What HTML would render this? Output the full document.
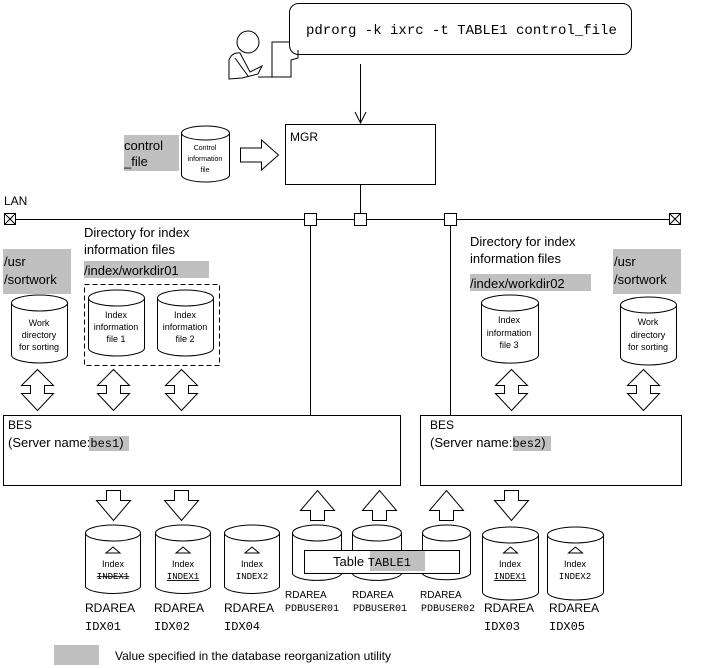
<!DOCTYPE html>
<html><head><meta charset="utf-8"><style>
html,body{margin:0;padding:0;background:#fff;}
svg{display:block;}
text{font-family:"Liberation Sans",sans-serif;fill:#000;}
.m{font-family:"Liberation Mono",monospace;}
</style></head><body>
<svg width="718" height="668" viewBox="0 0 718 668" xmlns="http://www.w3.org/2000/svg">
<defs>
<g id="dbl"><polygon points="0,0 16,16 7,16 7,24 16,24 0,41 -16,24 -7,24 -7,16 -16,16" fill="#fff" stroke="#000"/></g>
<g id="dn"><polygon points="-7,0 7,0 7,10 17,10 0,30 -17,10 -7,10" fill="#fff" stroke="#000"/></g>
<g id="up"><polygon points="-7,30 7,30 7,20 17,20 0,0 -17,20 -7,20" fill="#fff" stroke="#000"/></g>
</defs>
<g fill="none" stroke="#000" stroke-width="1">
<rect x="289.5" y="3.5" width="342" height="51" rx="9" fill="#fff"/>
<circle cx="248" cy="42" r="11"/>
<path d="M229,79 V60 Q232,52 240,53 L250,72 L262,66 L258,74 L242,78 Z"/>
<path d="M235,58 L248,76"/>
<path d="M258,77 L291,77 L291,60 L298,58 L298,50"/>
<path d="M272,77 V42 H290"/>
<line x1="360.5" y1="64" x2="360.5" y2="123"/>
<polyline points="355,112 360.5,123 366,112"/>
<rect x="285.5" y="124.5" width="150" height="60"/>
<path d="M181.5,133 V175 A24,7 0 0 0 229.5,175 V133" fill="#fff"/>
<ellipse cx="205.5" cy="133" rx="24" ry="7"/>
<polygon points="240.5,148 261.5,148 261.5,140 278.5,155 261.5,170 261.5,162 240.5,162" fill="#fff"/>
<line x1="15" y1="219.5" x2="669" y2="219.5"/>
<rect x="4.5" y="213.5" width="11" height="11" fill="#fff"/>
<path d="M4.5,213.5 L15.5,224.5 M15.5,213.5 L4.5,224.5"/>
<rect x="669.5" y="213.5" width="11" height="11" fill="#fff"/>
<path d="M669.5,213.5 L680.5,224.5 M680.5,213.5 L669.5,224.5"/>
<line x1="360.5" y1="184" x2="360.5" y2="213"/>
<line x1="310.5" y1="225" x2="310.5" y2="415"/>
<line x1="450.5" y1="225" x2="450.5" y2="415"/>
<rect x="304.5" y="213.5" width="12" height="12" fill="#fff"/>
<rect x="354.5" y="213.5" width="12" height="12" fill="#fff"/>
<rect x="444.5" y="213.5" width="12" height="12" fill="#fff"/>
<rect x="3.5" y="415.5" width="397" height="70"/>
<rect x="420.5" y="415.5" width="261" height="70"/>
<rect x="84.5" y="284.5" width="135" height="81" stroke-dasharray="5,3"/>
</g>
<g fill="#fff" stroke="#000">
<path d="M11.5,303 V355 A28,8 0 0 0 67.5,355 V303"/><ellipse cx="39.5" cy="303" rx="28" ry="8"/>
<path d="M88.5,298 V348 A28,8 0 0 0 144.5,348 V298"/><ellipse cx="116.5" cy="298" rx="28" ry="8"/>
<path d="M157.5,298 V348 A28,8 0 0 0 213.5,348 V298"/><ellipse cx="185.5" cy="298" rx="28" ry="8"/>
<path d="M481.5,303 V355 A28,8 0 0 0 538.5,355 V303"/><ellipse cx="510" cy="303" rx="28.5" ry="8"/>
<path d="M620.5,305 V357 A28,8 0 0 0 676.5,357 V305"/><ellipse cx="648.5" cy="305" rx="28" ry="8"/>
<path d="M85.5,533 V587 A28,8 0 0 0 140.5,587 V533"/><ellipse cx="113" cy="533" rx="27.5" ry="8"/>
<path d="M155.5,533 V587 A28,8 0 0 0 210.5,587 V533"/><ellipse cx="183" cy="533" rx="27.5" ry="8"/>
<path d="M224.5,533 V587 A28,8 0 0 0 279.5,587 V533"/><ellipse cx="252" cy="533" rx="27.5" ry="8"/>
<path d="M292.5,533 V574 A25,8 0 0 0 341.5,574 V533"/><ellipse cx="317" cy="533" rx="24.5" ry="8"/>
<path d="M352.5,533 V574 A25,8 0 0 0 401.5,574 V533"/><ellipse cx="377" cy="533" rx="24.5" ry="8"/>
<path d="M422.5,533 V574 A25,8 0 0 0 470.5,574 V533"/><ellipse cx="446.5" cy="533" rx="24" ry="8"/>
<path d="M482.5,535 V592 A28,8 0 0 0 538.5,592 V535"/><ellipse cx="510.5" cy="535" rx="28" ry="8"/>
<path d="M547.5,535 V592 A28,8 0 0 0 603.5,592 V535"/><ellipse cx="575.5" cy="535" rx="28" ry="8"/>
<rect x="304.5" y="550.5" width="155" height="23"/>
<polygon points="113,547 120,553 106,553"/><polygon points="183,547 190,553 176,553"/>
<polygon points="252,547 259,553 245,553"/><polygon points="510.5,547 517.5,553 503.5,553"/>
<polygon points="575.5,547 582.5,553 568.5,553"/>
</g>
<use href="#dbl" x="37.5" y="369.5"/><use href="#dbl" x="113.5" y="369.5"/><use href="#dbl" x="181.5" y="369.5"/>
<use href="#dbl" x="511.5" y="369.5"/><use href="#dbl" x="643.5" y="369.5"/>
<use href="#dn" x="113.5" y="490.5"/><use href="#dn" x="181.5" y="490.5"/><use href="#dn" x="511.5" y="490.5"/>
<use href="#up" x="317.5" y="490.5"/><use href="#up" x="379.5" y="490.5"/><use href="#up" x="446.5" y="490.5"/>
<g fill="#c0c0c0">
<rect x="124" y="135" width="55" height="36"/>
<rect x="3" y="249" width="68" height="45"/>
<rect x="84" y="261" width="125" height="17"/>
<rect x="470" y="274" width="121" height="17"/>
<rect x="613" y="249" width="68" height="45"/>
<rect x="89" y="436" width="40" height="15"/>
<rect x="513" y="436" width="38" height="15"/>
<rect x="370" y="551" width="55" height="20"/>
<rect x="54" y="645" width="45" height="20"/>
</g>
<text class="m" x="306" y="34" font-size="14">pdrorg -k ixrc -t TABLE1 control_file</text>
<text x="290" y="141" font-size="12">MGR</text>
<text x="124" y="150" font-size="13">control</text>
<text x="124" y="166" font-size="13">_file</text>
<g font-size="7" text-anchor="middle"><text x="205" y="150">Control</text><text x="205" y="161">information</text><text x="205" y="172">file</text></g>
<text x="4" y="205" font-size="12">LAN</text>
<text x="84" y="237" font-size="13">Directory for index</text>
<text x="84" y="254" font-size="13">information files</text>
<text x="84" y="275" font-size="13">/index/workdir01</text>
<text x="4" y="266" font-size="13">/usr</text><text x="4" y="284" font-size="13">/sortwork</text>
<text x="614" y="266" font-size="13">/usr</text><text x="614" y="284" font-size="13">/sortwork</text>
<text x="470" y="246" font-size="13">Directory for index</text>
<text x="470" y="263" font-size="13">information files</text>
<text x="470" y="288" font-size="13">/index/workdir02</text>
<g font-size="9" text-anchor="middle">
<text x="39" y="326">Work</text><text x="39" y="338">directory</text><text x="39" y="350">for sorting</text>
<text x="648" y="325">Work</text><text x="648" y="338">directory</text><text x="648" y="350">for sorting</text>
<text x="116" y="318">Index</text><text x="116" y="330">information</text><text x="116" y="342">file 1</text>
<text x="185" y="318">Index</text><text x="185" y="330">information</text><text x="185" y="342">file 2</text>
<text x="509" y="323">Index</text><text x="509" y="336">information</text><text x="509" y="348">file 3</text>
<text x="113" y="567">Index</text><text x="183" y="567">Index</text><text x="252" y="567">Index</text>
<text x="510" y="567">Index</text><text x="575" y="567">Index</text>
</g>
<g font-size="9" text-anchor="middle">
<text class="m" x="113" y="579" text-decoration="line-through">INDEX1</text>
<text class="m" x="183" y="579" text-decoration="underline">INDEX1</text>
<text class="m" x="252" y="579">INDEX2</text>
<text class="m" x="510" y="579" text-decoration="underline">INDEX1</text>
<text class="m" x="575" y="579">INDEX2</text>
</g>
<text x="8" y="429" font-size="12">BES</text>
<text x="8" y="447" font-size="13">(Server name:<tspan class="m" font-size="12">bes1</tspan>)</text>
<text x="430" y="429" font-size="12">BES</text>
<text x="430" y="447" font-size="13">(Server name:<tspan class="m" font-size="12">bes2</tspan>)</text>
<text x="333" y="566" font-size="13">Table <tspan class="m" font-size="12">TABLE1</tspan></text>
<g font-size="12">
<text x="85" y="612">RDAREA</text><text class="m" x="85" y="630">IDX01</text>
<text x="154" y="612">RDAREA</text><text class="m" x="154" y="630">IDX02</text>
<text x="224" y="612">RDAREA</text><text class="m" x="224" y="630">IDX04</text>
<text x="484" y="612">RDAREA</text><text class="m" x="484" y="630">IDX03</text>
<text x="549" y="612">RDAREA</text><text class="m" x="549" y="630">IDX05</text>
</g>
<g font-size="10">
<text x="285" y="598">RDAREA</text><text class="m" x="285" y="611">PDBUSER01</text>
<text x="352" y="598">RDAREA</text><text class="m" x="353" y="611">PDBUSER01</text>
<text x="420" y="598">RDAREA</text><text class="m" x="421" y="611">PDBUSER02</text>
</g>
<text x="115" y="660" font-size="12">Value specified in the database reorganization utility</text>
</svg>
</body></html>
